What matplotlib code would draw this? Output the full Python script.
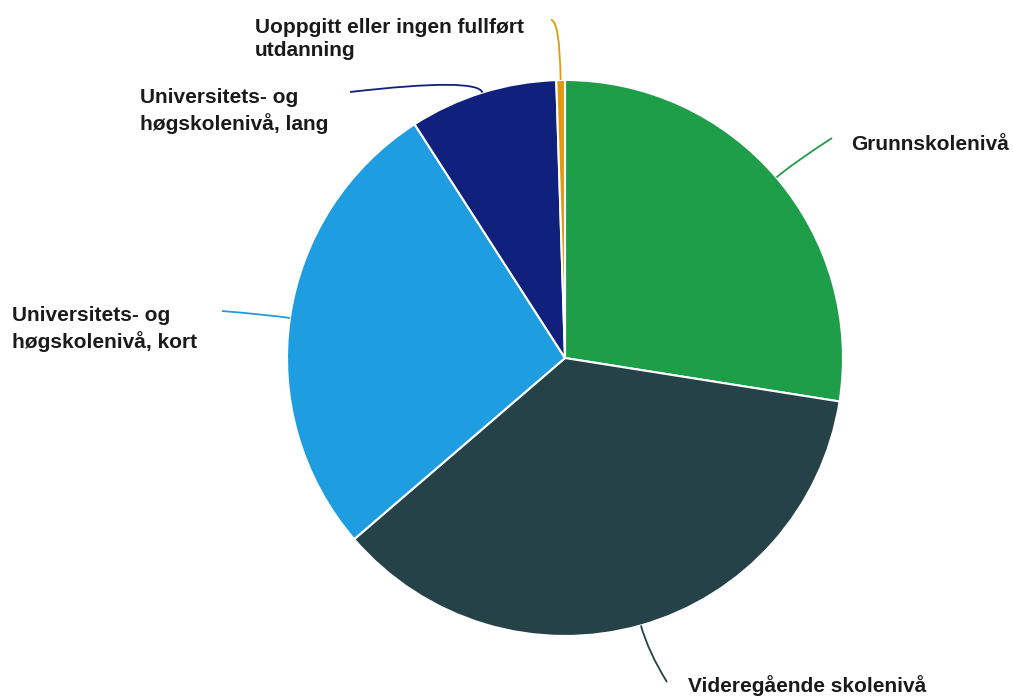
import numpy as np
import matplotlib
matplotlib.use("Agg")
import matplotlib.pyplot as plt
from matplotlib.path import Path
from matplotlib.patches import PathPatch

categories = ["Grunnskolenivå", "Videregående skolenivå",
              "Universitets- og\nhøgskolenivå, kort",
              "Universitets- og\nhøgskolenivå, lang",
              "Uoppgitt eller ingen fullført\nutdanning"]
values = [27.5, 36.2, 27.2, 8.6, 0.5]
colors = ["#1f9e4a", "#264249", "#1e9de0", "#10207d", "#e09a10"]

W, H = 1013, 698
fig = plt.figure(figsize=(W / 100, H / 100), dpi=100)
ax = fig.add_axes([0, 0, 1, 1])
ax.set_xlim(0, W)
ax.set_ylim(0, H)
ax.set_aspect("equal")
ax.axis("off")

cx, cy, R = 565, H - 358, 278
wedges, _ = ax.pie(values, colors=colors, startangle=90, counterclock=False,
                   center=(cx, cy), radius=R, frame=True,
                   wedgeprops=dict(edgecolor="white", linewidth=1.5))
ax.set_xlim(0, W)
ax.set_ylim(0, H)
ax.axis("off")

# label layout (pixel coords from top-left): text x, text y-center, ha, connector end, outward offset
layout = [
    (851, 145, "left", (832, 138), 22),
    (688, 686, "left", (667, 682), 28),
    (12, 329, "left", (222, 311), 22),
    (140, 111, "left", (350, 92), 16),
    (255, 39, "left", (551, 20), 60),
]

for w, cat, col, (tx, ty, ha, end, off) in zip(wedges, categories, colors, layout):
    ang = np.deg2rad((w.theta1 + w.theta2) / 2)
    p0 = (cx + R * np.cos(ang), cy + R * np.sin(ang))
    pc = (cx + (R + off) * np.cos(ang), cy + (R + off) * np.sin(ang))
    p1 = (end[0], H - end[1])
    path = Path([p0, pc, p1], [Path.MOVETO, Path.CURVE3, Path.CURVE3])
    ax.add_patch(PathPatch(path, fc="none", ec=col, lw=1.3))
    ax.text(tx, H - ty, cat, ha=ha, va="center", fontsize=15,
            fontweight="bold", family="Liberation Sans", color="#1a1a1a",
            linespacing=1.3)

fig.savefig("out.png", dpi=100, facecolor="white")
